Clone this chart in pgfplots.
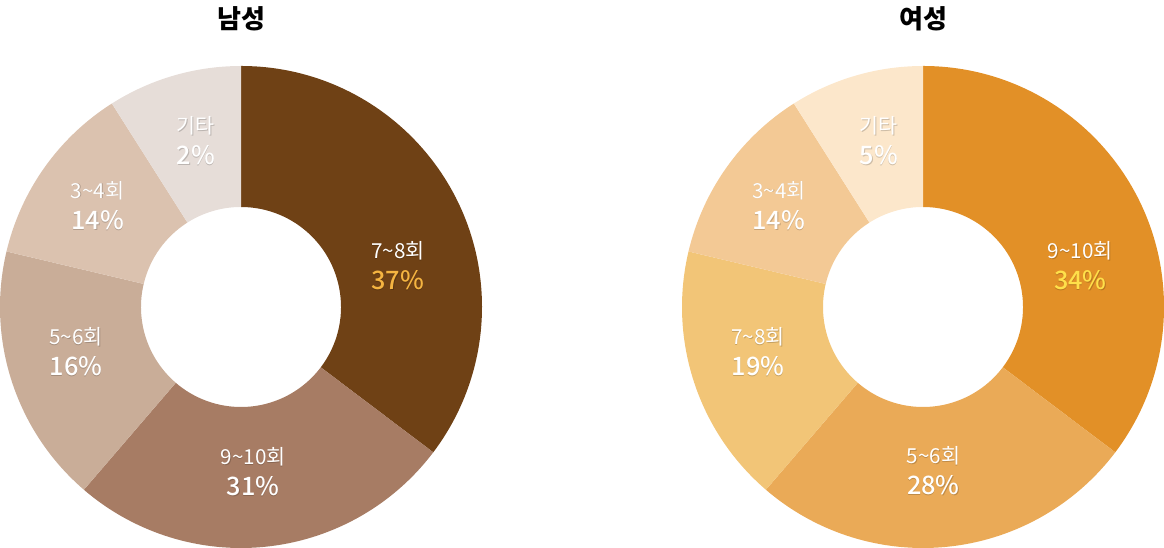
\documentclass[border=0pt]{standalone}
\usepackage{fontspec}
\setmainfont{Noto Sans CJK KR}
\newfontfamily\pctfont{Noto Sans CJK KR Medium}
\usepackage{pgfplots}
\pgfplotsset{compat=1.18}

\definecolor{m1}{HTML}{6F4115}
\definecolor{m2}{HTML}{A77C64}
\definecolor{m3}{HTML}{C9AD98}
\definecolor{m4}{HTML}{DBC2AF}
\definecolor{m5}{HTML}{E6DDD8}
\definecolor{mhl}{HTML}{F5B441}
\definecolor{w1}{HTML}{E29027}
\definecolor{w2}{HTML}{EAAA57}
\definecolor{w3}{HTML}{F2C577}
\definecolor{w4}{HTML}{F3C995}
\definecolor{w5}{HTML}{FCE7CB}
\definecolor{whl}{HTML}{FFE04A}

% ring radii: outer = 1 axis unit
\def\Rout{180.75pt}
\def\Rin{75pt}
\def\rin{0.415}

% one wedge of the ring, angles in degrees
\newcommand\slice[3]{%
  \edef\cmd{\noexpand\fill[#3] (axis cs:{cos(#1)},{sin(#1)})
    arc[start angle=#1, end angle=#2, radius=\Rout]
    -- (axis cs:{\rin*cos(#2)},{\rin*sin(#2)})
    arc[start angle=#2, end angle=#1, radius=\Rin] -- cycle;}%
  \cmd}

% share/colour list, clockwise from 12 o'clock
\newcommand\ring[1]{%
  \gdef\acc{90}%
  \foreach \v/\c in {#1}{%
    \pgfmathsetmacro\b{\acc-3.6*\v}%
    \slice{\acc}{\b}{\c}%
    \xdef\acc{\b}%
  }}

\newcommand\lab[4]{%
  \node[align=center, text=black, opacity=0.18, font=\fontsize{15.5}{23.4}\selectfont]
    at ([shift={(0.3pt,-0.7pt)}]axis cs:#1) {#2\\{\fontsize{19}{23.4}\pctfont #3\%}};
  \node[align=center, text=white, font=\fontsize{15.5}{23.4}\selectfont]
    at (axis cs:#1) {#2\\{\fontsize{19}{23.4}\pctfont\color{#4}#3\%}};}

\pgfplotsset{donut/.style={hide axis, scale only axis, width=361.5pt, height=361.5pt,
  xmin=-1, xmax=1, ymin=-1, ymax=1, clip=false, anchor=center}}

\begin{document}
\begin{tikzpicture}
\useasboundingbox (0,0) rectangle (873pt,411pt);

\node at (180.75pt,396.75pt) {\fontsize{19.5}{20}\selectfont\bfseries 남성};
\node at (692.25pt,396.75pt) {\fontsize{19.5}{20}\selectfont\bfseries 여성};

\begin{axis}[donut, at={(180.75pt,180.75pt)}]
\ring{35.3/m1, 26.0/m2, 17.4/m3, 12.3/m4, 9.0/m5}
\lab{0.651,0.172}{7\textasciitilde8회}{37}{mhl}
\lab{0.050,-0.683}{9\textasciitilde10회}{31}{white}
\lab{-0.685,-0.185}{5\textasciitilde6회}{16}{white}
\lab{-0.595,0.422}{3\textasciitilde4회}{14}{white}
\lab{-0.187,0.691}{기타}{2}{white}
\end{axis}

\begin{axis}[donut, at={(692.25pt,180.75pt)}]
\ring{35.3/w1, 26.0/w2, 17.4/w3, 12.3/w4, 9.0/w5}
\lab{0.653,0.170}{9\textasciitilde10회}{34}{whl}
\lab{0.043,-0.678}{5\textasciitilde6회}{28}{white}
\lab{-0.685,-0.185}{7\textasciitilde8회}{19}{white}
\lab{-0.598,0.422}{3\textasciitilde4회}{14}{white}
\lab{-0.183,0.691}{기타}{5}{white}
\end{axis}
\end{tikzpicture}
\end{document}
